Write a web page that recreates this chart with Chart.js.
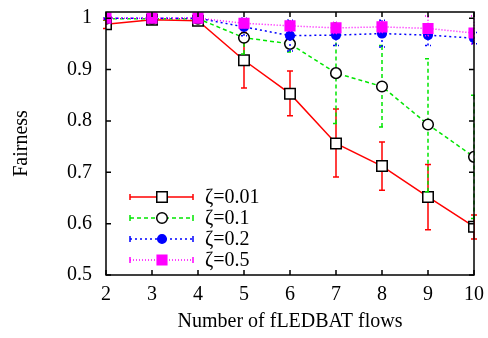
<!DOCTYPE html>
<html>
<head>
<meta charset="utf-8">
<script src="https://cdn.jsdelivr.net/npm/chart.js@4.4.1/dist/chart.umd.min.js"></script>
<style>
  body { margin: 0; background: #fff; }
  canvas { display: block; }
</style>
</head>
<body>
<canvas id="fairchart" width="488" height="338"></canvas>
<script>
// Start Data
const flows = [2, 3, 4, 5, 6, 7, 8, 9, 10];
const yTicks = [0.5, 0.6, 0.7, 0.8, 0.9, 1];
const labels = ['ζ=0.01', 'ζ=0.1', 'ζ=0.2', 'ζ=0.5'];

const z001 = [0.988, 0.997, 0.995, 0.918, 0.853, 0.756, 0.712, 0.652, 0.594];
const z001Low = [0.980, 0.994, 0.990, 0.864, 0.810, 0.691, 0.665, 0.588, 0.570];
const z001High = [0.996, 1.000, 1.000, 0.972, 0.897, 0.823, 0.759, 0.715, 0.617];

const z01 = [0.999, 0.999, 0.999, 0.962, 0.950, 0.893, 0.867, 0.793, 0.730];
const z01Low = [0.997, 0.997, 0.997, 0.930, 0.934, 0.795, 0.788, 0.662, 0.610];
const z01High = [1.000, 1.000, 1.000, 0.994, 0.966, 0.991, 0.947, 0.921, 0.850];

const z02 = [1.000, 1.000, 1.000, 0.983, 0.966, 0.967, 0.970, 0.967, 0.961];
const z02Low = [0.998, 0.998, 0.998, 0.966, 0.936, 0.947, 0.944, 0.947, 0.950];
const z02High = [1.000, 1.000, 1.000, 1.000, 0.996, 0.987, 0.996, 0.987, 0.972];

const z05 = [1.000, 1.000, 1.000, 0.990, 0.985, 0.981, 0.983, 0.980, 0.971];
const z05Low = [0.998, 0.998, 0.998, 0.982, 0.975, 0.970, 0.972, 0.966, 0.950];
const z05High = [1.000, 1.000, 1.000, 0.998, 0.995, 0.992, 0.994, 1.004, 1.004];
// End Data

const serif = '"Liberation Serif", "DejaVu Serif", serif';

function pts(vals) {
  return vals.map((v, i) => ({ x: flows[i], y: v }));
}

// Start gnuplot look: error bars, frame, inward ticks, key
const gnuplotLook = {
  id: 'gnuplotLook',
  beforeDatasetDraw(chart, args) {
    const ds = chart.data.datasets[args.index];
    const ctx = chart.ctx;
    const xs = chart.scales.x, ys = chart.scales.y;
    ctx.save();
    ctx.strokeStyle = ds.borderColor;
    ctx.lineWidth = 1.5;
    ctx.setLineDash(ds.borderDash || []);
    ds.errLow.forEach((lo, k) => {
      const px = xs.getPixelForValue(flows[k]);
      const pLo = ys.getPixelForValue(lo);
      const pHi = ys.getPixelForValue(ds.errHigh[k]);
      ctx.beginPath();
      ctx.moveTo(px, pLo); ctx.lineTo(px, pHi);
      ctx.moveTo(px - 3, pLo); ctx.lineTo(px + 3, pLo);
      ctx.moveTo(px - 3, pHi); ctx.lineTo(px + 3, pHi);
      ctx.stroke();
    });
    ctx.restore();
  },
  afterDraw(chart) {
    const ctx = chart.ctx;
    const a = chart.chartArea;
    const xs = chart.scales.x, ys = chart.scales.y;
    ctx.save();
    ctx.strokeStyle = '#000';
    ctx.lineWidth = 1.5;
    ctx.setLineDash([]);
    ctx.strokeRect(a.left, a.top, a.right - a.left, a.bottom - a.top);
    ctx.beginPath();
    flows.forEach(v => {
      const px = xs.getPixelForValue(v);
      ctx.moveTo(px, a.bottom); ctx.lineTo(px, a.bottom - 5);
      ctx.moveTo(px, a.top); ctx.lineTo(px, a.top + 5);
    });
    yTicks.forEach(v => {
      const py = ys.getPixelForValue(v);
      ctx.moveTo(a.left, py); ctx.lineTo(a.left + 5, py);
      ctx.moveTo(a.right, py); ctx.lineTo(a.right - 5, py);
    });
    ctx.stroke();

    // key
    chart.data.datasets.forEach((ds, i) => {
      const ky = 197 + i * 21;
      ctx.save();
      ctx.strokeStyle = ds.borderColor;
      ctx.lineWidth = 1.5;
      ctx.setLineDash(ds.borderDash || []);
      ctx.beginPath();
      ctx.moveTo(130, ky); ctx.lineTo(193, ky);
      ctx.stroke();
      ctx.setLineDash([]);
      ctx.beginPath();
      ctx.moveTo(130, ky - 3); ctx.lineTo(130, ky + 3);
      ctx.moveTo(193, ky - 3); ctx.lineTo(193, ky + 3);
      ctx.stroke();
      ctx.fillStyle = ds.pointBackgroundColor;
      ctx.strokeStyle = ds.pointBorderColor;
      ctx.lineWidth = ds.pointBorderWidth;
      ctx.beginPath();
      if (ds.pointStyle === 'rect') {
        const h = ds.pointRadius * Math.SQRT1_2;
        ctx.rect(162 - h, ky - h, 2 * h, 2 * h);
      } else {
        ctx.arc(162, ky, ds.pointRadius, 0, Math.PI * 2);
      }
      ctx.fill();
      ctx.stroke();
      ctx.restore();
      ctx.fillStyle = '#000';
      ctx.font = '20px ' + serif;
      ctx.textBaseline = 'middle';
      ctx.textAlign = 'left';
      ctx.fillText(ds.label, 205, ky + 1);
    });
    ctx.restore();
  }
};
// End gnuplot look

function series(label, vals, lo, hi, color, dash, style, radius, fill, edge, order) {
  return {
    label: label,
    data: pts(vals),
    errLow: lo,
    errHigh: hi,
    borderColor: color,
    borderWidth: 1.5,
    borderDash: dash,
    pointStyle: style,
    pointRadius: radius,
    pointBackgroundColor: fill,
    pointBorderColor: edge,
    pointBorderWidth: 1.5,
    tension: 0,
    order: order
  };
}

const ctx = document.getElementById('fairchart');

new Chart(ctx, {
  type: 'line',
  data: {
    datasets: [
      series(labels[0], z001, z001Low, z001High, '#ff0000', [], 'rect', 7.4, '#ffffff', '#000000', 3),
      series(labels[1], z01, z01Low, z01High, '#00e600', [4, 3], 'circle', 5.3, '#ffffff', '#000000', 2),
      series(labels[2], z02, z02Low, z02High, '#0000ff', [2, 3], 'circle', 4.3, '#0000ff', '#0000ff', 1),
      series(labels[3], z05, z05Low, z05High, '#ff00ff', [1, 2], 'rect', 6.8, '#ff00ff', '#ff00ff', 0)
    ]
  },
  options: {
    responsive: false,
    animation: false,
    events: [],
    layout: { padding: { left: 10, right: 14, top: 12, bottom: 0 } },
    plugins: {
      legend: { display: false },
      tooltip: { enabled: false }
    },
    scales: {
      x: {
        type: 'linear',
        min: 2,
        max: 10,
        grid: { display: false, drawTicks: false },
        border: { display: false },
        ticks: { stepSize: 1, padding: 8, color: '#000', font: { family: serif, size: 20 } },
        title: { display: true, text: 'Number of fLEDBAT flows', color: '#000', padding: { top: 2, bottom: 4 },
                 font: { family: serif, size: 20 } },
        afterFit: s => { s.height = 63; s.paddingRight = 0; s.paddingLeft = 0; }
      },
      y: {
        type: 'linear',
        min: 0.5,
        max: 1.012,
        grid: { display: false, drawTicks: false },
        border: { display: false },
        afterBuildTicks: s => { s.ticks = yTicks.map(v => ({ value: v })); },
        ticks: { padding: 14, color: '#000', font: { family: serif, size: 20 },
                 callback: v => String(+v.toFixed(1)) },
        title: { display: true, text: 'Fairness', color: '#000', padding: { top: 0, bottom: 0 },
                 font: { family: serif, size: 20 } },
        afterFit: s => { s.width = 96; s.paddingTop = 0; s.paddingBottom = 0; }
      }
    }
  },
  plugins: [gnuplotLook]
});
</script>
</body>
</html>
